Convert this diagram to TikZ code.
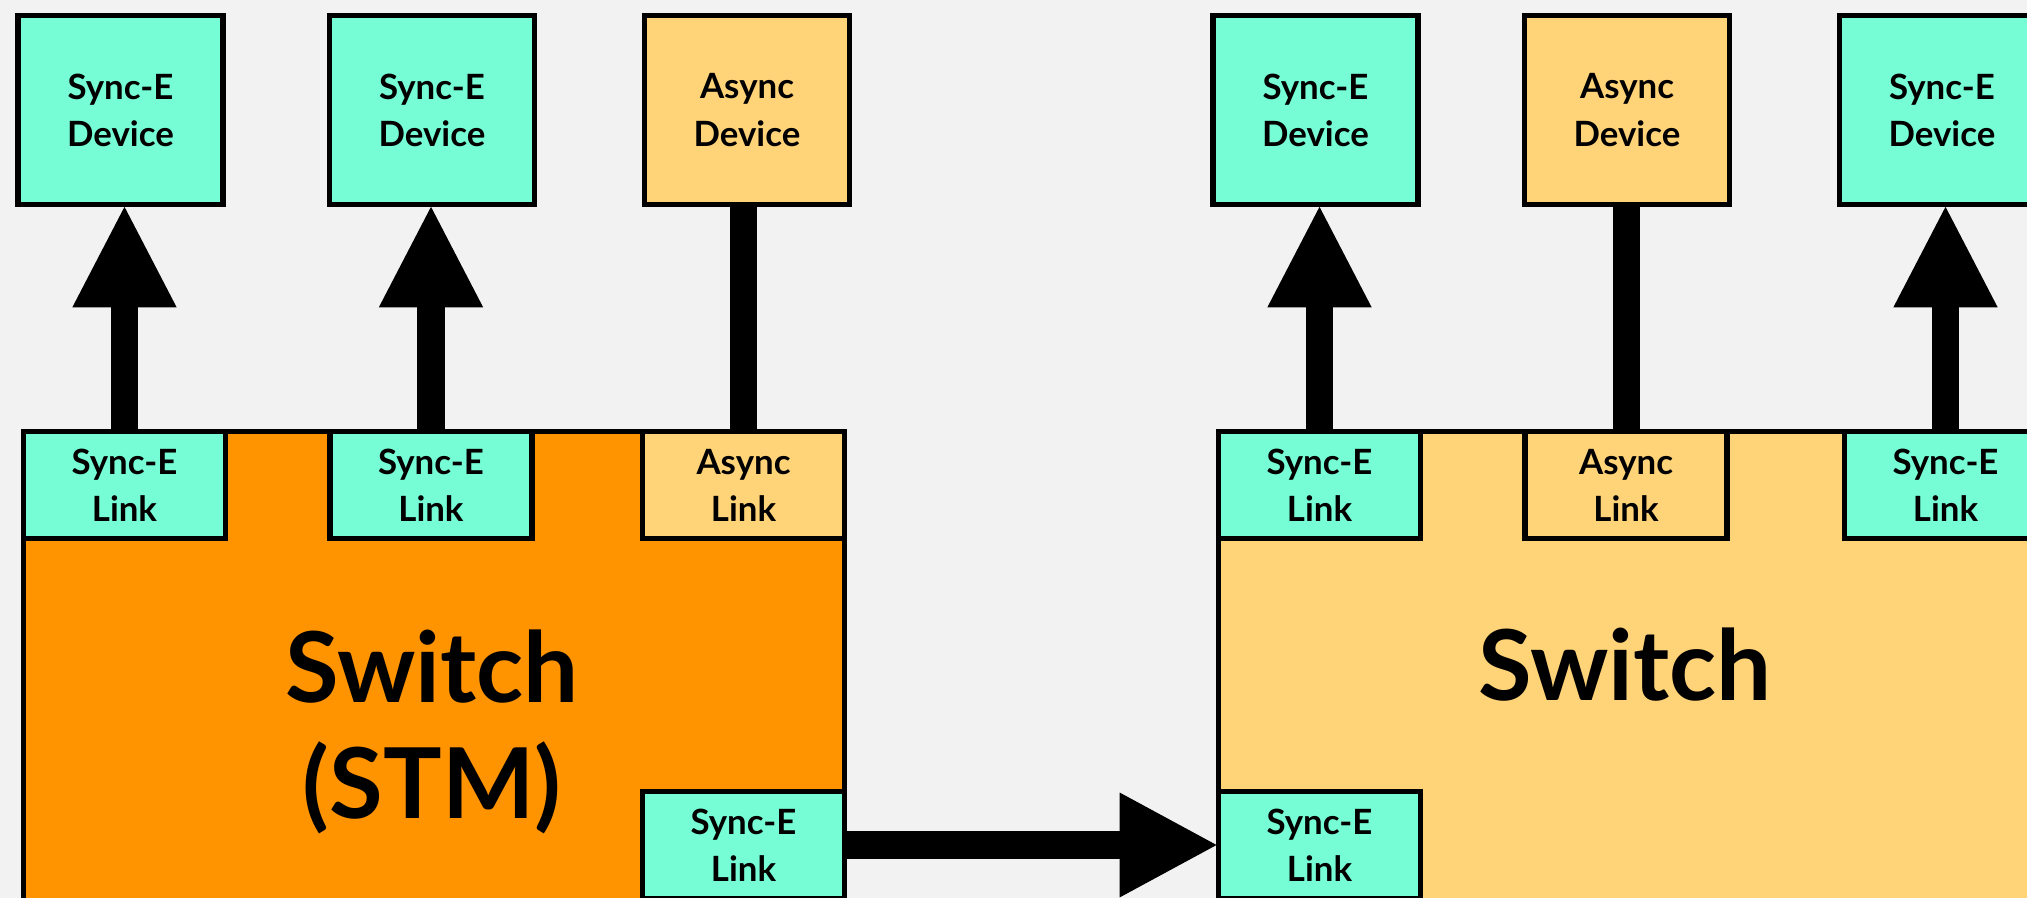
\documentclass[tikz,border=0pt]{standalone}
\usepackage{fontspec}
\setmainfont{Lato}
\usetikzlibrary{arrows.meta}
\definecolor{seafoam}{HTML}{76FDD6}
\definecolor{tangerine}{HTML}{FF9300}
\definecolor{cantaloupe}{HTML}{FFD479}
\definecolor{bgpaper}{HTML}{F2F2F2}
\tikzset{
  boxline/.style={draw=black, line width=0.055cm, inner sep=0pt, outer sep=0pt},
  devbox/.style={boxline, minimum width=2.045cm, minimum height=1.885cm, align=center,
    font=\fontsize{9.9}{13.4}\selectfont\bfseries},
  linkbox/.style={boxline, minimum width=2.015cm, minimum height=1.065cm, align=center,
    font=\fontsize{9.9}{13.4}\selectfont\bfseries},
  switchbox/.style={boxline, minimum width=8.205cm, minimum height=5.655cm},
  bigtext/.style={align=center, inner sep=0pt, font=\fontsize{27.8}{33}\selectfont\bfseries},
  syncc/.style={fill=seafoam},
  asyncc/.style={fill=cantaloupe},
  uparrow/.style={line width=0.27cm, -{Triangle[length=1.03cm,width=0.96cm]}},
  sidearrow/.style={line width=0.27cm, -{Triangle[length=0.99cm,width=0.97cm]}},
  plainline/.style={line width=0.27cm}
}
\begin{document}
\begin{tikzpicture}[x={(0.01cm,0)}, y={(0,-0.01cm)}]
\useasboundingbox (0,0) rectangle (2027,898);
\fill[bgpaper] (0,0) rectangle (2027,898);

% switches
\node[switchbox, fill=tangerine] (sw1) at (434,714.5) {};
\node[switchbox, fill=cantaloupe] (sw2) at (1629,714.5) {};

% left group
\node[devbox, syncc] (d1) at (120.5,110) {Sync-E\\Device};
\node[devbox, syncc] (d2) at (432,110) {Sync-E\\Device};
\node[devbox, asyncc] (d3) at (747,110) {Async\\Device};
\node[linkbox, syncc] (l1) at (124.5,485) {Sync-E\\Link};
\node[linkbox, syncc] (l2) at (431,485) {Sync-E\\Link};
\node[linkbox, asyncc] (l3) at (743.5,485) {Async\\Link};
\node[linkbox, syncc] (lb1) at (743.5,845) {Sync-E\\Link};
\node[bigtext] (sw1label) at (432,732) {Switch\\(STM)};

% right group
\node[devbox, syncc] (d4) at (1315.5,110) {Sync-E\\Device};
\node[devbox, asyncc] (d5) at (1627,110) {Async\\Device};
\node[devbox, syncc] (d6) at (1942,110) {Sync-E\\Device};
\node[linkbox, syncc] (l4) at (1319.5,485) {Sync-E\\Link};
\node[linkbox, asyncc] (l5) at (1626,485) {Async\\Link};
\node[linkbox, syncc] (l6) at (1945.5,485) {Sync-E\\Link};
\node[linkbox, syncc] (lb2) at (1319.5,845) {Sync-E\\Link};
\node[bigtext, anchor=base] (sw2label) at (1625,701) {Switch};

% connectors
\draw[uparrow] (l1.north) -- (l1.north |- d1.south);
\draw[uparrow] (l2.north) -- (l2.north |- d2.south);
\draw[plainline] (l3.north) -- (l3.north |- d3.south);
\draw[uparrow] (l4.north) -- (l4.north |- d4.south);
\draw[plainline] (l5.north) -- (l5.north |- d5.south);
\draw[uparrow] (l6.north) -- (l6.north |- d6.south);
\draw[sidearrow] (lb1.east) -- (lb2.west);
\end{tikzpicture}
\end{document}
